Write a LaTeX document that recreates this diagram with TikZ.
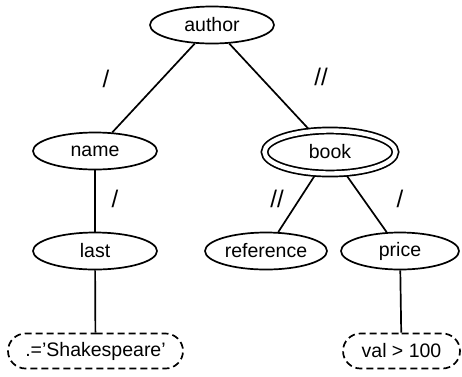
\documentclass[tikz,border=0pt]{standalone}
\usepackage{fontspec}
\setmainfont{Liberation Sans}
\usetikzlibrary{shapes.geometric, shapes.misc}

\begin{document}
\begin{tikzpicture}[
  x=1pt, y=-1pt,
  tag/.style={draw, ellipse, line width=1.7pt, inner sep=0pt, minimum width=124pt, minimum height=37pt, font=\fontsize{19.5}{22}\selectfont},
  rootbox/.style={tag, double, double distance=4.4pt, minimum width=131pt, minimum height=43pt, outer sep=3pt},
  valbox/.style={draw, rounded rectangle, dash pattern=on 7pt off 4pt, line width=1.7pt, inner sep=0pt, minimum height=35pt, font=\fontsize{19.5}{22}\selectfont},
  axis/.style={font=\fontsize{24}{26}\selectfont},
  edge/.style={line width=1.7pt}
]
\useasboundingbox (0,0) rectangle (462,376);

\node[tag] (author) at (212,25) {author};
\node[tag] (name) at (95,151) {name};
\node[rootbox] (book) at (330,152) {book};
\node[tag] (last) at (95,251) {last};
\node[tag, minimum width=122pt] (reference) at (266,251) {reference};
\node[tag, minimum width=118pt] (price) at (400,251) {price};
\node[valbox, minimum width=175pt] (shakes) at (95.5,351) {.='Shakespeare'};
\node[valbox, minimum width=117pt] (val) at (401.5,351) {val > 100};

\draw[edge] (author) -- (name);
\draw[edge] (author) -- (book);
\draw[edge] (name) -- (last);
\draw[edge] (book) -- (reference);
\draw[edge] (book) -- (price);
\draw[edge] (last) -- (shakes);
\draw[edge] (price) -- (val);

% axis labels
\node[axis] (a1) at (106,79) {/};
\node[axis] (a2) at (321,77) {//};
\node[axis] (a3) at (115,199) {/};
\node[axis] (a4) at (277,199) {//};
\node[axis] (a5) at (400,199) {/};
\end{tikzpicture}
\end{document}
